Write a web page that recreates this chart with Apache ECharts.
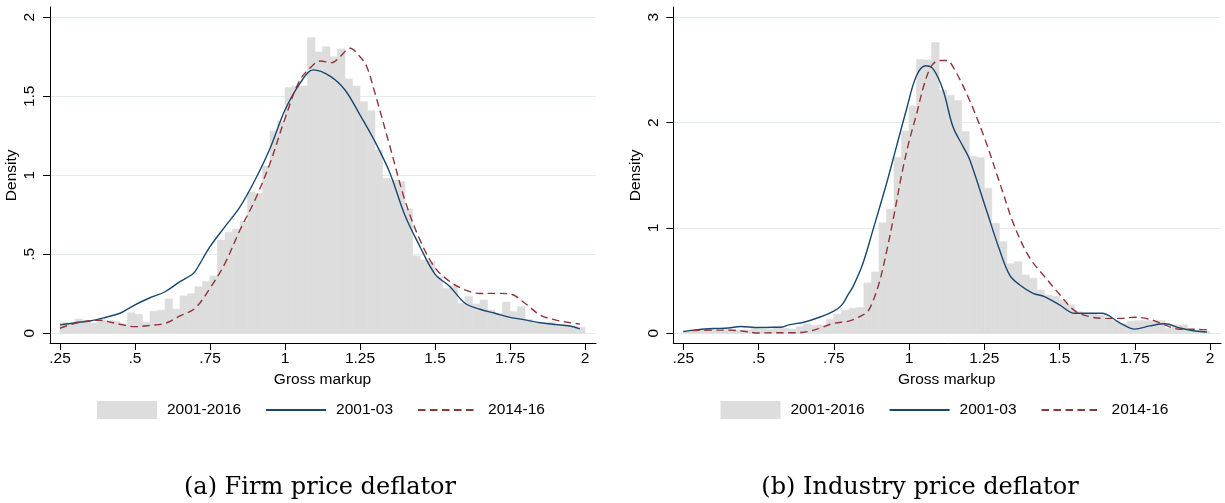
<!DOCTYPE html>
<html>
<head>
<meta charset="utf-8">
<script src="https://cdn.jsdelivr.net/npm/echarts@6/dist/echarts.min.js"></script>
<style>
html,body{margin:0;padding:0;background:#ffffff;}
#chart{width:1225px;height:503px;}
</style>
</head>
<body>
<div id="chart"></div>
<script>
// ---------------- DATA ----------------
const binStart = 0.25;
const binWidth = 0.025;

// (a) Firm price deflator — histogram 2001-2016 (density per 0.025 bin)
const histA = [
  0.07,0.06,0.09,0.08,0.065,0.09,0.08,0.075,0.06,0.13,
  0.12,0.07,0.14,0.145,0.217,0.152,0.237,0.25,0.295,0.327,
  0.363,0.59,0.64,0.66,0.71,0.894,0.886,1.059,1.28,1.344,
  1.555,1.565,1.565,1.871,1.78,1.814,1.75,1.80,1.61,1.565,
  1.466,1.409,1.16,0.98,0.97,0.96,0.787,0.49,0.464,0.455,
  0.358,0.285,0.30,0.19,0.232,0.185,0.211,0.147,0.127,0.198,
  0.137,0.169,0.089,0.063,0.063,0.07,0.046,0.05,0.043,0.038
];
// (a) 2001-03 kernel density
const blueAx = [0.25,0.30,0.35,0.40,0.45,0.50,0.55,0.60,0.65,0.688,0.70,0.75,0.80,0.85,0.90,0.95,1.00,1.05,1.094,1.15,1.20,1.25,1.30,1.35,1.40,1.45,1.50,1.55,1.60,1.65,1.70,1.75,1.80,1.85,1.90,1.95,1.983];
const blueAy = [0.053,0.067,0.078,0.10,0.127,0.18,0.225,0.263,0.327,0.369,0.39,0.548,0.675,0.80,0.97,1.17,1.413,1.582,1.667,1.628,1.54,1.382,1.213,1.013,0.745,0.548,0.375,0.295,0.19,0.152,0.127,0.101,0.085,0.067,0.056,0.046,0.028];
// (a) 2014-16 kernel density
const redAx = [0.25,0.30,0.35,0.383,0.40,0.45,0.50,0.55,0.60,0.65,0.70,0.75,0.80,0.85,0.90,0.95,1.00,1.05,1.10,1.117,1.156,1.183,1.217,1.25,1.272,1.30,1.35,1.40,1.45,1.50,1.55,1.60,1.65,1.70,1.75,1.80,1.85,1.90,1.95,1.983];
const redAy = [0.032,0.063,0.08,0.083,0.078,0.057,0.042,0.05,0.063,0.11,0.158,0.285,0.443,0.654,0.844,1.076,1.36,1.603,1.709,1.723,1.713,1.75,1.804,1.75,1.69,1.519,1.181,0.84,0.59,0.415,0.327,0.275,0.252,0.253,0.249,0.19,0.116,0.085,0.067,0.058];

// (b) Industry price deflator — histogram 2001-2016
const histB = [
  0.025,0.038,0.038,0.038,0.03,0.038,0.035,0.03,0.03,0.047,
  0.038,0.038,0.063,0.047,0.04,0.063,0.09,0.075,0.08,0.133,
  0.18,0.22,0.237,0.245,0.478,0.583,1.05,1.18,1.668,1.92,
  2.158,2.60,2.595,2.76,2.31,2.26,2.21,1.915,1.68,1.668,
  1.377,1.044,0.87,0.66,0.68,0.554,0.522,0.41,0.364,0.35,
  0.316,0.27,0.206,0.19,0.185,0.174,0.142,0.12,0.09,0.115,
  0.12,0.12,0.12,0.12,0.047,0.08,0.08,0.03,0.03,0.016
];
// (b) 2001-03 kernel density
const blueBx = [0.25,0.30,0.35,0.40,0.44,0.50,0.55,0.58,0.60,0.65,0.70,0.75,0.777,0.80,0.814,0.847,0.88,0.925,0.958,0.991,1.024,1.055,1.08,1.113,1.146,1.18,1.202,1.257,1.301,1.335,1.368,1.412,1.45,1.50,1.55,1.60,1.64,1.70,1.75,1.80,1.85,1.90,1.95,1.99];
const blueBy = [0.016,0.035,0.045,0.05,0.065,0.055,0.057,0.06,0.08,0.105,0.15,0.21,0.27,0.38,0.443,0.665,0.98,1.42,1.77,2.12,2.44,2.54,2.51,2.31,1.96,1.77,1.646,1.17,0.79,0.55,0.459,0.38,0.348,0.27,0.19,0.19,0.19,0.1,0.04,0.07,0.09,0.05,0.022,0.013];
// (b) 2014-16 kernel density
const redBx = [0.28,0.35,0.40,0.45,0.50,0.55,0.60,0.65,0.70,0.75,0.80,0.83,0.86,0.875,0.90,0.925,0.95,0.975,1.00,1.025,1.05,1.075,1.10,1.125,1.15,1.20,1.25,1.30,1.35,1.40,1.45,1.50,1.55,1.60,1.65,1.70,1.75,1.80,1.85,1.90,1.95,2.00];
const redBy = [0.025,0.03,0.03,0.02,0.003,0.005,0.005,0.01,0.045,0.095,0.115,0.15,0.2,0.27,0.47,0.77,1.12,1.5,1.82,2.08,2.36,2.54,2.59,2.59,2.51,2.22,1.86,1.44,1.02,0.72,0.54,0.37,0.215,0.158,0.142,0.142,0.152,0.133,0.08,0.038,0.038,0.03];

const xTickValues = [0.25,0.5,0.75,1,1.25,1.5,1.75,2];
const xTickLabels = ['.25','.5','.75','1','1.25','1.5','1.75','2'];
const yTickValuesA = [0,0.5,1,1.5,2];
const yTickLabelsA = ['0','.5','1','1.5','2'];
const yTickValuesB = [0,1,2,3];
const yTickLabelsB = ['0','1','2','3'];
const legendNames = ['2001-2016','2001-03','2014-16'];
const xTitle = 'Gross markup';
const yTitle = 'Density';
const captionA = '(a) Firm price deflator';
const captionB = '(b) Industry price deflator';

// ---------------- LAYOUT / STYLE ----------------
const SANS = '"Liberation Sans", Arial, sans-serif';
const FS = 15.5;
const C_HIST = '#dddddd', C_BLUE = '#1a476f', C_RED = '#90353b', C_GRID = '#e4ecee';
const DASH = [7.5, 4.5];

const panels = [
  {hist: histA, bx: blueAx, by: blueAy, rx: redAx, ry: redAy, yMax: 2, yInt: 0.5,
   yVals: yTickValuesA, yLabs: yTickLabelsA, caption: captionA,
   boxL: 50, boxR: 596, boxT: 7, boxB: 343, x0: 60, x1: 585, yTop: 17.3, yZero: 333.3,
   legendLeft: 97, captionX: 320},
  {hist: histB, bx: blueBx, by: blueBy, rx: redBx, ry: redBy, yMax: 3, yInt: 1,
   yVals: yTickValuesB, yLabs: yTickLabelsB, caption: captionB,
   boxL: 673.3, boxR: 1221, boxT: 7, boxB: 343, x0: 683.3, x1: 1210, yTop: 17.3, yZero: 333.3,
   legendLeft: 720.5, captionX: 920}
];

function labeler(vals, labs) {
  return function (v) {
    for (let i = 0; i < vals.length; i++) if (Math.abs(vals[i] - v) < 1e-6) return labs[i];
    return '';
  };
}
function zip(a, b) { return a.map((v, i) => [v, b[i]]); }

const grid = [], xAxis = [], yAxis = [], series = [], legend = [], graphic = [];
const xLo = xTickValues[0], xHi = xTickValues[xTickValues.length - 1];
const hiddenSymbol = {color: 'rgba(0,0,0,0)', borderWidth: 0, opacity: 0};

panels.forEach((p, i) => {
  const g0 = 3 * i, g1 = 3 * i + 1, g2 = 3 * i + 2;
  const ppu = (p.x1 - p.x0) / (xHi - xLo);
  const xmin = xLo - (p.x0 - p.boxL) / ppu;
  const xmax = xHi + (p.boxR - p.x1) / ppu;

  grid.push({left: p.boxL, top: p.boxT, width: p.boxR - p.boxL, height: p.boxB - p.boxT, outerBoundsMode: 'none', containLabel: false});
  grid.push({left: p.boxL, top: p.yTop, width: p.boxR - p.boxL, height: p.yZero - p.yTop, outerBoundsMode: 'none', containLabel: false});
  grid.push({left: p.x0, top: p.boxT, width: p.x1 - p.x0, height: p.boxB - p.boxT, outerBoundsMode: 'none', containLabel: false});

  xAxis.push({gridIndex: g0, type: 'value', min: 0, max: 1,
    axisLine: {show: true, lineStyle: {color: '#000', width: 1}}, axisTick: {show: false},
    axisLabel: {show: false}, splitLine: {show: false}});
  yAxis.push({gridIndex: g0, type: 'value', min: 0, max: 1,
    axisLine: {show: true, lineStyle: {color: '#000', width: 1}}, axisTick: {show: false},
    axisLabel: {show: false}, splitLine: {show: false}});

  xAxis.push({gridIndex: g1, type: 'value', min: xmin, max: xmax, show: false, splitLine: {show: false}});
  yAxis.push({gridIndex: g1, type: 'value', min: 0, max: p.yMax, interval: p.yInt,
    axisLine: {show: false}, axisTick: {show: true, length: 7, lineStyle: {color: '#000', width: 1}},
    axisLabel: {show: true, rotate: 90, margin: 12, color: '#000', fontSize: FS, fontFamily: SANS,
      formatter: labeler(p.yVals, p.yLabs), showMinLabel: true, showMaxLabel: true},
    splitLine: {show: true, lineStyle: {color: C_GRID, width: 1}},
    name: yTitle, nameLocation: 'middle', nameRotate: 90, nameGap: 30,
    nameTextStyle: {color: '#000', fontSize: FS, fontFamily: SANS}});

  xAxis.push({gridIndex: g2, type: 'value', min: xLo, max: xHi, interval: 0.25,
    axisLine: {show: false}, axisTick: {show: true, length: 7, lineStyle: {color: '#000', width: 1}},
    axisLabel: {show: true, margin: 8, color: '#000', fontSize: FS, fontFamily: SANS,
      formatter: labeler(xTickValues, xTickLabels), showMinLabel: true, showMaxLabel: true},
    splitLine: {show: false},
    name: xTitle, nameLocation: 'middle', nameGap: 26,
    nameTextStyle: {color: '#000', fontSize: FS, fontFamily: SANS}});
  yAxis.push({gridIndex: g2, type: 'value', min: 0, max: 1, show: false, splitLine: {show: false}});

  series.push({
    name: legendNames[0], type: 'custom', xAxisIndex: g1, yAxisIndex: g1,
    itemStyle: {color: C_HIST},
    encode: {x: [0, 1], y: 2},
    data: p.hist.map((h, k) => [binStart + k * binWidth, binStart + (k + 1) * binWidth, h]),
    renderItem: function (params, api) {
      const a = api.coord([api.value(0), api.value(2)]);
      const b = api.coord([api.value(1), 0]);
      return {type: 'rect', shape: {x: a[0], y: a[1], width: b[0] - a[0], height: b[1] - a[1]},
        style: {fill: C_HIST, stroke: C_HIST, lineWidth: 0.6}};
    },
    z: 1
  });
  series.push({
    name: legendNames[1], type: 'line', xAxisIndex: g1, yAxisIndex: g1,
    data: zip(p.bx, p.by), symbol: 'none', showSymbol: false, smooth: 0.35,
    lineStyle: {color: C_BLUE, width: 1.4}, itemStyle: {color: C_BLUE}, z: 3
  });
  series.push({
    name: legendNames[2], type: 'line', xAxisIndex: g1, yAxisIndex: g1,
    data: zip(p.rx, p.ry), symbol: 'none', showSymbol: false, smooth: 0.35,
    lineStyle: {color: C_RED, width: 1.4, type: DASH}, itemStyle: {color: C_RED}, z: 4
  });

  legend.push({
    left: p.legendLeft, top: 401, padding: 0, orient: 'horizontal', itemWidth: 60, itemHeight: 18, itemGap: 24,
    selectedMode: false,
    data: [
      {name: legendNames[0], icon: 'rect'},
      {name: legendNames[1], itemStyle: hiddenSymbol},
      {name: legendNames[2], itemStyle: hiddenSymbol}
    ],
    textStyle: {color: '#000', fontSize: FS, fontFamily: SANS, padding: [0, 0, 0, 5]}
  });

  graphic.push({type: 'text', x: p.captionX, y: 488,
    style: {text: p.caption, textAlign: 'center', textVerticalAlign: 'middle',
      font: '24px "DejaVu Serif", serif', fill: '#000'}});
});

const chart = echarts.init(document.getElementById('chart'), null, {renderer: 'canvas'});
chart.setOption({
  backgroundColor: '#ffffff',
  animation: false,
  grid, xAxis, yAxis, series, legend, graphic
});
</script>
</body>
</html>
